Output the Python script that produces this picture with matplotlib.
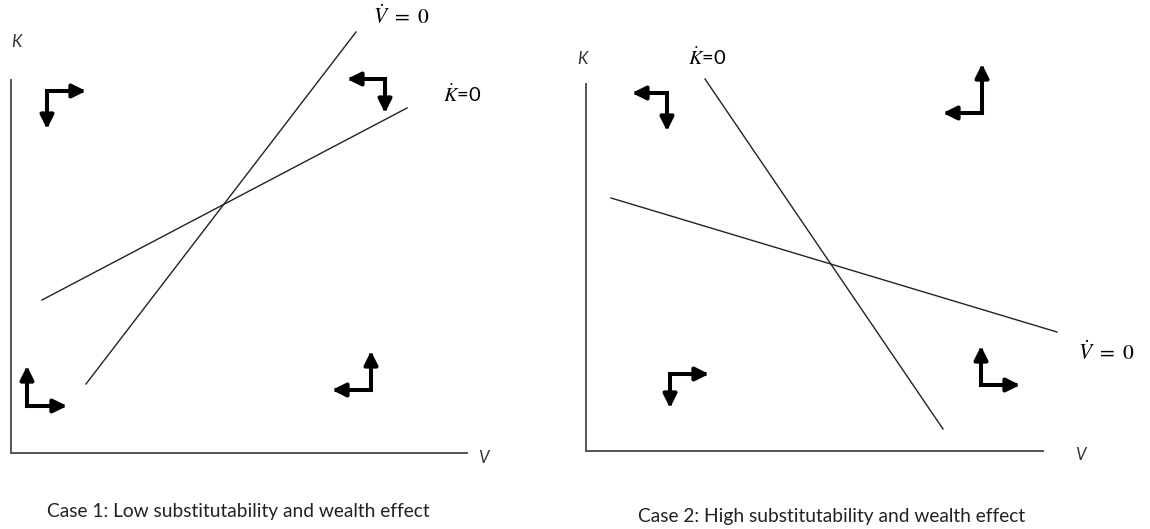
import matplotlib
matplotlib.use("Agg")
import matplotlib.pyplot as plt

plt.rcParams['font.family'] = ['Lato', 'DejaVu Sans']
plt.rcParams['mathtext.fontset'] = 'stix'

W, H = 1150, 529

# panel frames in picture pixels: (x_left, x_right, y_bottom, y_top)
frame1 = (11, 467, 453, 80)
frame2 = (586, 1043, 451, 84)

# schedules: (x0, x1), (y0, y1)
case1_vdot_x = [86, 356]
case1_vdot_y = [384, 32]
case1_kdot_x = [42, 407]
case1_kdot_y = [300, 108]
case2_kdot_x = [705, 943]
case2_kdot_y = [79, 429]
case2_vdot_x = [611, 1057]
case2_vdot_y = [198, 332]

# phase arrows: corner, first tip, second tip
case1_arrows = [
    ((47, 91), (86, 91), (47, 129)),
    ((385, 79), (347, 79), (385, 113)),
    ((27, 406), (27, 366), (67, 406)),
    ((371, 390), (371, 351), (332, 390)),
]
case2_arrows = [
    ((667, 93), (632, 93), (667, 131)),
    ((982, 113), (982, 64), (943, 113)),
    ((670, 374), (709, 374), (670, 408)),
    ((981, 385), (981, 346), (1020, 385)),
]

captions = ["Case 1: Low substitutability and wealth effect",
            "Case 2: High substitutability and wealth effect"]


def make_panel(fig, frame):
    x0, x1, yb, yt = frame
    ax = fig.add_axes([x0 / W, (H - yb) / H, (x1 - x0) / W, (yb - yt) / H])
    ax.set_xlim(x0, x1)
    ax.set_ylim(yb, yt)
    for s in ['top', 'right']:
        ax.spines[s].set_visible(False)
    for s in ['left', 'bottom']:
        ax.spines[s].set_color('#555555')
        ax.spines[s].set_linewidth(1.4)
    ax.set_xticks([])
    ax.set_yticks([])
    ax.patch.set_alpha(0)
    return ax


def draw_arrows(ax, arrows):
    for corner, t1, t2 in arrows:
        for tip in (t1, t2):
            ax.annotate('', xy=tip, xytext=corner, annotation_clip=False,
                        arrowprops=dict(arrowstyle='-|>', lw=2.9, color='black',
                                        mutation_scale=20, shrinkA=0, shrinkB=0,
                                        capstyle='projecting'))


fig = plt.figure(figsize=(W / 100, H / 100), dpi=100)

ax1 = make_panel(fig, frame1)
ax1.plot(case1_vdot_x, case1_vdot_y, color='#222222', lw=1.0, clip_on=False)
ax1.plot(case1_kdot_x, case1_kdot_y, color='#222222', lw=1.0, clip_on=False)
draw_arrows(ax1, case1_arrows)
ax1.text(16, 42, 'K', style='italic', fontsize=12, ha='center', va='center', color='#333333')
ax1.text(483, 458, 'V', style='italic', fontsize=12, ha='center', va='center', color='#333333')
ax1.text(401, 16, r'$\dot{V}\ =\ 0$', fontsize=15.5, ha='center', va='center')
ax1.text(462, 94, r'$\dot{K}$=0', fontsize=14.5, ha='center', va='center')
ax1.text(238, 512, captions[0], fontsize=13.8, ha='center', va='center', color='#222222')

ax2 = make_panel(fig, frame2)
ax2.plot(case2_kdot_x, case2_kdot_y, color='#222222', lw=1.0, clip_on=False)
ax2.plot(case2_vdot_x, case2_vdot_y, color='#222222', lw=1.0, clip_on=False)
draw_arrows(ax2, case2_arrows)
ax2.text(582, 59, 'K', style='italic', fontsize=12, ha='center', va='center', color='#333333')
ax2.text(1080, 455, 'V', style='italic', fontsize=12, ha='center', va='center', color='#333333')
ax2.text(707, 57, r'$\dot{K}$=0', fontsize=14.5, ha='center', va='center')
ax2.text(1106, 352, r'$\dot{V}\ =\ 0$', fontsize=15.5, ha='center', va='center')
ax2.text(832, 517, captions[1], fontsize=13.8, ha='center', va='center', color='#222222')

fig.savefig('out.png', dpi=100)
